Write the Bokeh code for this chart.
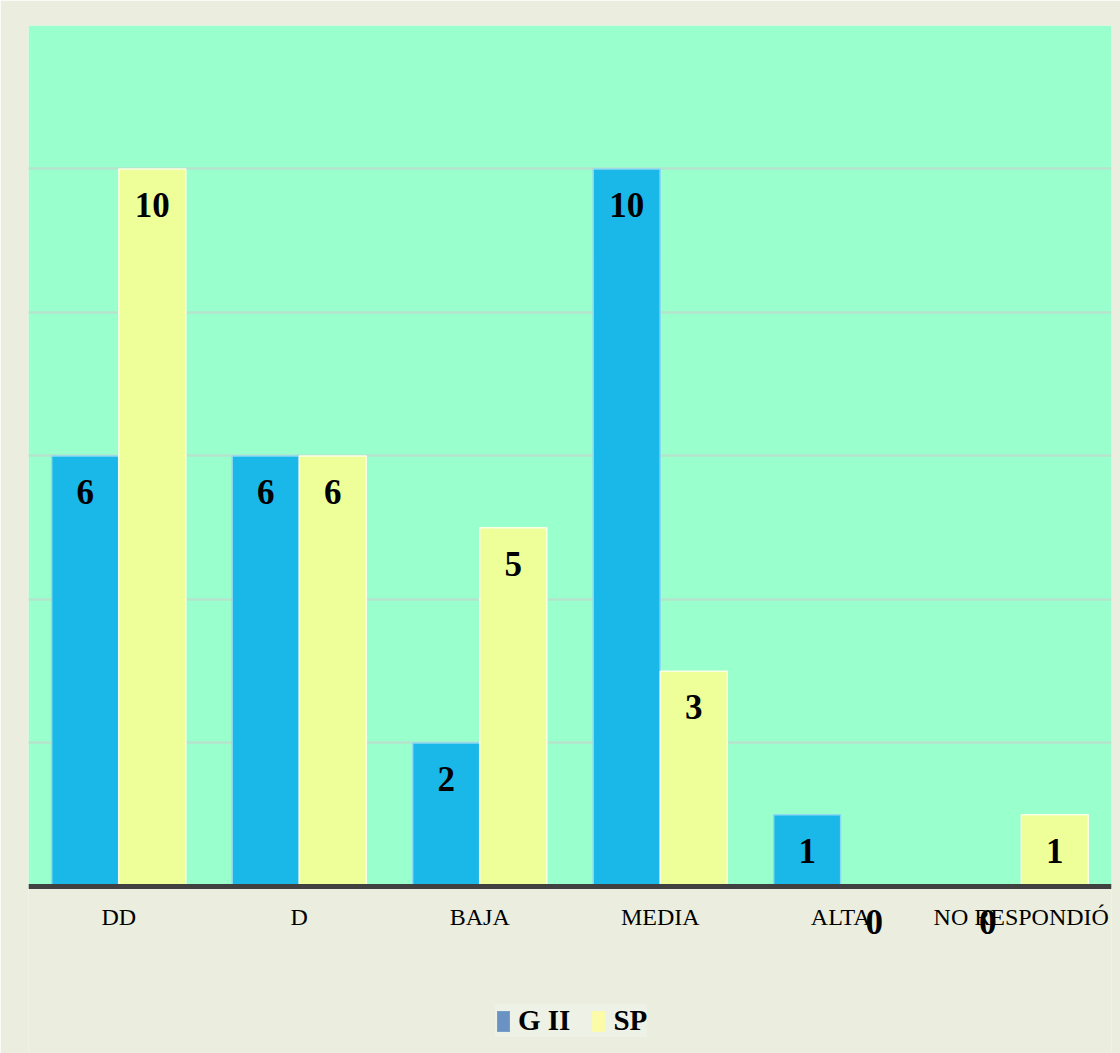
from bokeh.plotting import figure
from bokeh.models import (ColumnDataSource, FactorRange, Label, Legend, LegendItem,
                          FixedTicker, Range1d, BoxAnnotation, Span)
from bokeh.transform import dodge
from bokeh.embed import file_html
from bokeh.resources import INLINE

categories = ["DD", "D", "BAJA", "MEDIA", "ALTA", "NO RESPONDIÓ"]
g2_values = [6, 6, 2, 10, 1, 0]
sp_values = [10, 6, 5, 3, 0, 1]
series_names = ["G II", "SP"]
y_ticks = [0, 2, 4, 6, 8, 10, 12]

BG_OUT = "#EBEEDF"
BG_PLOT = "#99FFCC"
BLUE = "#1AB8E8"
YELLOW = "#EEFF99"
SERIF = "Liberation Serif"

# the frame reaches down to the page bottom so that the "0" labels under the
# category line and the legend are not clipped; the area below zero is painted
# like the outer background
p = figure(x_range=FactorRange(factors=categories), y_range=Range1d(-2.328, 12),
           frame_width=1083, frame_height=1028,
           min_border_left=28, min_border_top=25, min_border_right=9, min_border_bottom=0,
           output_backend="svg", toolbar_location=None)
p.background_fill_color = BG_OUT
p.border_fill_color = BG_OUT
p.outline_line_color = None

p.add_layout(BoxAnnotation(bottom=0, fill_color=BG_PLOT, fill_alpha=1.0, line_color=None,
                           level="image"))

src = ColumnDataSource(dict(cat=categories, g2=g2_values, sp=sp_values))

bw = 0.371
off = 0.186
p.vbar(x=dodge("cat", -off, range=p.x_range), top="g2", bottom=0, width=bw, source=src,
       fill_color=BLUE, line_color="#8CD9F2", line_width=1.5)
p.vbar(x=dodge("cat", off, range=p.x_range), top="sp", bottom=0, width=bw, source=src,
       fill_color=YELLOW, line_color="#FAFFE3", line_width=1.5)

# category axis line at zero
p.add_layout(Span(location=0, dimension="width", line_color="#404040", line_width=5))

# value labels
for vals, d in ((g2_values, -off), (sp_values, off)):
    for i, v in enumerate(vals):
        p.add_layout(Label(x=i + 0.5 + d, y=v, text=str(v), y_offset=-36,
                           text_align="center", text_baseline="middle",
                           text_font=SERIF, text_font_style="bold", text_font_size="35px",
                           text_color="#000000"))

# axes
p.yaxis.visible = False
p.ygrid.ticker = FixedTicker(ticks=y_ticks)
p.ygrid.grid_line_color = "#B5E3CB"
p.ygrid.grid_line_width = 2.5
p.xgrid.visible = False

ax = p.xaxis[0]
ax.fixed_location = -0.251
ax.axis_line_color = None
ax.major_tick_line_color = None
ax.minor_tick_line_color = None
ax.major_tick_out = 0
ax.major_tick_in = 0
ax.major_label_text_font = SERIF
ax.major_label_text_font_size = "24px"
ax.major_label_text_color = "#000000"
ax.major_label_standoff = 0

# legend with its own swatch colours (zero-size bars, only used for the swatches)
r1 = p.vbar(x=[categories[0]], top=[0], bottom=[0], width=0.0,
            fill_color="#6A93C4", line_color=None)
r2 = p.vbar(x=[categories[0]], top=[0], bottom=[0], width=0.0,
            fill_color="#FBFBA8", line_color=None)
legend = Legend(items=[LegendItem(label=series_names[0], renderers=[r1], index=0),
                       LegendItem(label=series_names[1], renderers=[r2], index=0)],
                orientation="horizontal", location=(467, 16))
legend.label_text_font = SERIF
legend.label_text_font_style = "bold"
legend.label_text_font_size = "29px"
legend.label_text_color = "#000000"
legend.glyph_width = 16
legend.glyph_height = 26
legend.label_standoff = 7
legend.spacing = 20
legend.padding = 14
legend.margin = 0
legend.background_fill_color = "#EEF0E6"
legend.border_line_color = None
p.add_layout(legend, "center")

open("out.html", "w").write(file_html(p, INLINE))
